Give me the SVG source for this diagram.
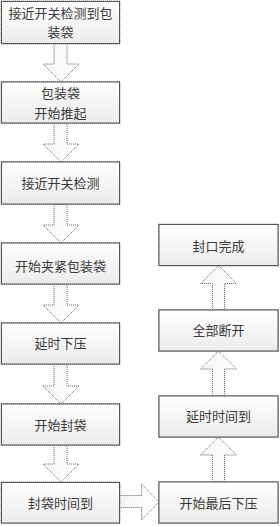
<svg xmlns="http://www.w3.org/2000/svg" width="280" height="526" viewBox="0 0 280 526">
<defs>
<linearGradient id="g" x1="0" y1="0" x2="0" y2="1">
<stop offset="0" stop-color="#ffffff"/>
<stop offset="1" stop-color="#ebebeb"/>
</linearGradient>
<linearGradient id="ga" x1="0" y1="0" x2="1" y2="0">
<stop offset="0" stop-color="#f4f4f4"/>
<stop offset="1" stop-color="#ffffff"/>
</linearGradient>
</defs>
<style>
.box{fill:url(#g);stroke:#555;stroke-width:1}
.sh{fill:none;stroke:#777;stroke-width:1;stroke-dasharray:1 1}
.arr{fill:url(#ga);stroke:#666;stroke-width:1;stroke-dasharray:1 1}
.t{font-family:"Noto Sans CJK SC","Noto Sans",sans-serif;font-size:13px;fill:#3a3a3a;text-anchor:middle}
</style>
<rect width="280" height="526" fill="#ffffff"/>
<g id="connectors">
<polygon class="arr" points="54,43.5 67,43.5 67,64 79,64 61,82 43,64 54,64"/>
<polygon class="arr" points="54,123 67,123 67,144 79,144 61,162 43,144 54,144"/>
<polygon class="arr" points="54,204 67,204 67,225 79,225 61,243 43,225 54,225"/>
<polygon class="arr" points="54,284 67,284 67,305 79,305 61,323 43,305 54,305"/>
<polygon class="arr" points="54,364 67,364 67,386 79,386 61,404 43,386 54,386"/>
<polygon class="arr" points="54,445 67,445 67,464 79,464 61,482 43,464 54,464"/>
<polygon class="arr" points="119.5,495.5 141.5,495.5 141.5,484 159,502 141.5,520 141.5,507.5 119.5,507.5"/>
<polygon class="arr" points="212.5,482 212.5,455 200.5,455 218.5,437 236.5,455 224.5,455 224.5,482"/>
<polygon class="arr" points="212.5,396 212.5,369 200.5,369 218.5,351 236.5,369 224.5,369 224.5,396"/>
<polygon class="arr" points="212.5,310 212.5,283.5 200.5,283.5 218.5,265.5 236.5,283.5 224.5,283.5 224.5,310"/>
</g>
<g id="n1"><rect class="sh" x="1" y="1" width="119" height="43"/><rect class="box" x="1.5" y="1.5" width="118" height="42"/><text class="t" x="60.5" y="17.5">接近开关检测到包</text><text class="t" x="60.5" y="37">装袋</text></g>
<g id="n2"><rect class="sh" x="1" y="81.5" width="119" height="42"/><rect class="box" x="1.5" y="82" width="118" height="41"/><text class="t" x="60.5" y="97.5">包装袋</text><text class="t" x="60.5" y="117.5">开始推起</text></g>
<g id="n3"><rect class="sh" x="1" y="161.5" width="119" height="43"/><rect class="box" x="1.5" y="162" width="118" height="42"/><text class="t" x="60.5" y="187.5">接近开关检测</text></g>
<g id="n4"><rect class="sh" x="1" y="242.5" width="119" height="42"/><rect class="box" x="1.5" y="243" width="118" height="41"/><text class="t" x="60.5" y="270.5">开始夹紧包装袋</text></g>
<g id="n5"><rect class="sh" x="1" y="322.5" width="119" height="42"/><rect class="box" x="1.5" y="323" width="118" height="41"/><text class="t" x="60.5" y="347.5">延时下压</text></g>
<g id="n6"><rect class="sh" x="1" y="403.5" width="119" height="42"/><rect class="box" x="1.5" y="404" width="118" height="41"/><text class="t" x="60.5" y="429.5">开始封袋</text></g>
<g id="n7"><rect class="sh" x="1" y="482" width="119" height="41.5"/><rect class="box" x="1.5" y="482.5" width="118" height="40.5"/><text class="t" x="60.5" y="507.5">封袋时间到</text></g>
<g id="n8"><rect class="sh" x="158.5" y="481.5" width="120" height="42"/><rect class="box" x="159" y="482" width="119" height="41"/><text class="t" x="218.5" y="507.5">开始最后下压</text></g>
<g id="n9"><rect class="sh" x="158.5" y="395.5" width="120" height="42"/><rect class="box" x="159" y="396" width="119" height="41"/><text class="t" x="218.5" y="421">延时时间到</text></g>
<g id="n10"><rect class="sh" x="158.5" y="309.5" width="120" height="42"/><rect class="box" x="159" y="310" width="119" height="41"/><text class="t" x="218.5" y="334.5">全部断开</text></g>
<g id="n11"><rect class="sh" x="158.5" y="224" width="120" height="42"/><rect class="box" x="159" y="224.5" width="119" height="41"/><text class="t" x="218.5" y="250.5">封口完成</text></g>
</svg>
